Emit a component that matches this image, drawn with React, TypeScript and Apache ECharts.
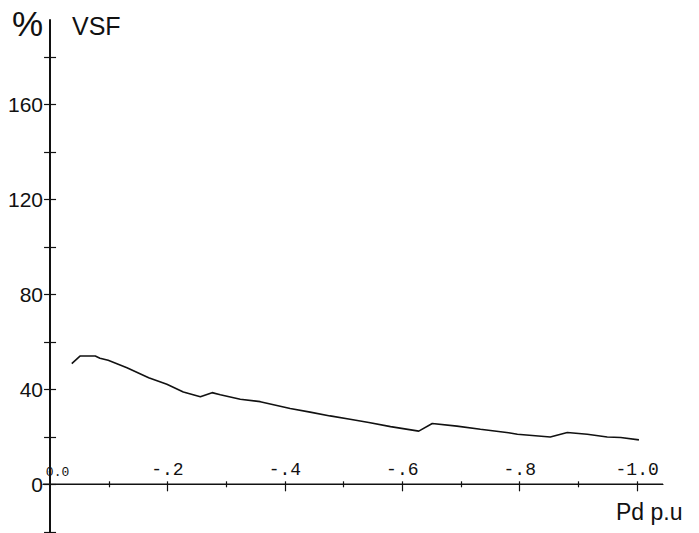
import React, { useEffect, useRef } from "react";
import * as echarts from "echarts";

const pdValues = [-0.037, -0.051, -0.077, -0.085, -0.099, -0.131, -0.168, -0.199, -0.227, -0.256, -0.276, -0.29, -0.324, -0.358, -0.409, -0.443, -0.477, -0.511, -0.543, -0.58, -0.628, -0.651, -0.693, -0.733, -0.781, -0.796, -0.852, -0.881, -0.915, -0.949, -0.972, -1.003];
const vsfValues = [50.8, 54.0, 54.0, 53.1, 52.2, 49.1, 44.9, 42.1, 38.9, 36.9, 38.6, 37.7, 35.8, 34.8, 31.9, 30.4, 28.8, 27.4, 26.0, 24.3, 22.4, 25.6, 24.5, 23.2, 21.7, 21.1, 19.9, 21.8, 21.1, 19.9, 19.7, 18.7];

const yTickValues = [-20, 0, 20, 40, 60, 80, 100, 120, 140, 160, 180];
const yLabelValues = [0, 40, 80, 120, 160];
const xMajorTicks = [-0.2, -0.4, -0.6, -0.8, -1.0];
const xMinorTicks = [-0.1, -0.3, -0.5, -0.7, -0.9];
const xAllTicks = [-0.1, -0.2, -0.3, -0.4, -0.5, -0.6, -0.7, -0.8, -0.9, -1.0];
const xLabelValues = [0, -0.2, -0.4, -0.6, -0.8, -1.0];

const X_MIN = -1.044;
const X_MAX = 0.012;
const Y_MIN = -20.5;
const Y_MAX = 195.5;

const ink = "#111";

function xLabel(v: number): string {
  if (Math.abs(v) < 1e-9) return "{z|0.0}";
  if (v <= -0.999) return "-1.0";
  return "-." + Math.round(-v * 10);
}

export default function App() {
  const ref = useRef<HTMLDivElement>(null);
  useEffect(() => {
    if (!ref.current) return;
    const chart = echarts.init(ref.current, null, { renderer: "svg" });
    const gridLeft = 43;
    const gridWidth = 620;
    const gridTop = 20;
    const gridHeight = 513;
    const zeroY = gridTop + (Y_MAX / (Y_MAX - Y_MIN)) * gridHeight;
    const zeroX = gridLeft + (X_MAX / (X_MAX - X_MIN)) * gridWidth;
    const yOffset = -(zeroX - gridLeft);
    const xTopOffset = -(zeroY - gridTop);
    const baseX = {
      type: "value" as const,
      inverse: true,
      min: X_MIN,
      max: X_MAX,
      splitLine: { show: false },
    };
    const topX = {
      ...baseX,
      gridIndex: 0,
      position: "top" as const,
      offset: xTopOffset,
    };
    const baseY = {
      type: "value" as const,
      min: Y_MIN,
      max: Y_MAX,
      position: "left" as const,
      offset: yOffset,
      splitLine: { show: false },
    };
    chart.setOption({
      animation: false,
      backgroundColor: "#fff",
      grid: [
        { left: gridLeft, width: gridWidth, top: gridTop, height: gridHeight, containLabel: false, outerBoundsMode: "none" },
      ],
      xAxis: [
        {
          ...baseX,
          gridIndex: 0,
          position: "bottom" as const,
          show: false,
        },
        {
          ...topX,
          axisLine: { show: true, onZero: false, lineStyle: { color: ink, width: 1.2 } },
          axisTick: { show: true, inside: false, length: 3, customValues: xAllTicks, lineStyle: { color: ink, width: 1.2 } },
          axisLabel: {
            show: true,
            margin: 5,
            customValues: xLabelValues,
            formatter: xLabel,
            fontFamily: "Liberation Mono",
            fontSize: 18,
            color: ink,
            rich: {
              z: { fontFamily: "Liberation Mono", fontSize: 13, color: ink, padding: [0, 0, 0, 15] },
            },
          },
        },
        {
          ...topX,
          axisLine: { show: false, onZero: false },
          axisTick: { show: true, inside: true, length: 7, customValues: xMajorTicks, lineStyle: { color: ink, width: 1.2 } },
          axisLabel: { show: false },
        },
        {
          ...topX,
          axisLine: { show: false, onZero: false },
          axisTick: { show: true, inside: true, length: 3, customValues: xMinorTicks, lineStyle: { color: ink, width: 1.2 } },
          axisLabel: { show: false },
        },
      ],
      yAxis: [
        {
          ...baseY,
          gridIndex: 0,
          axisLine: { show: true, onZero: false, lineStyle: { color: ink, width: 2 } },
          axisTick: { show: true, inside: false, length: 6, customValues: yTickValues, lineStyle: { color: ink, width: 1.2 } },
          axisLabel: {
            show: true,
            margin: 7,
            customValues: yLabelValues,
            fontFamily: "Liberation Sans",
            fontSize: 21,
            color: ink,
          },
        },
        {
          ...baseY,
          gridIndex: 0,
          axisLine: { show: false, onZero: false },
          axisTick: { show: true, inside: true, length: 6, customValues: yTickValues, lineStyle: { color: ink, width: 1.2 } },
          axisLabel: { show: false },
        },
      ],
      graphic: [
        {
          type: "rect",
          z: 100,
          silent: true,
          shape: { x: gridLeft, y: zeroY - 0.7, width: gridWidth, height: 1.4 },
          style: { fill: ink },
        },
        {
          type: "text",
          x: 12,
          y: 23,
          style: { text: "%", fontSize: 35, fontFamily: "Liberation Sans", fill: ink, align: "left", verticalAlign: "middle" },
        },
        {
          type: "text",
          x: 72,
          y: 26,
          style: { text: "VSF", fontSize: 25, fontFamily: "Liberation Sans", fill: ink, align: "left", verticalAlign: "middle" },
        },
        {
          type: "text",
          x: 616,
          y: 512,
          style: { text: "Pd p.u", fontSize: 23, fontFamily: "Liberation Sans", fill: ink, align: "left", verticalAlign: "middle" },
        },
      ],
      series: [
        {
          type: "line",
          xAxisIndex: 0,
          yAxisIndex: 0,
          showSymbol: false,
          symbol: "none",
          lineStyle: { color: ink, width: 1.6 },
          data: pdValues.map((p, i) => [p, vsfValues[i]]),
        },
      ],
    });
    return () => chart.dispose();
  }, []);
  return <div ref={ref} style={{ position: "fixed", left: 0, top: 0, width: 699, height: 533 }} />;
}
